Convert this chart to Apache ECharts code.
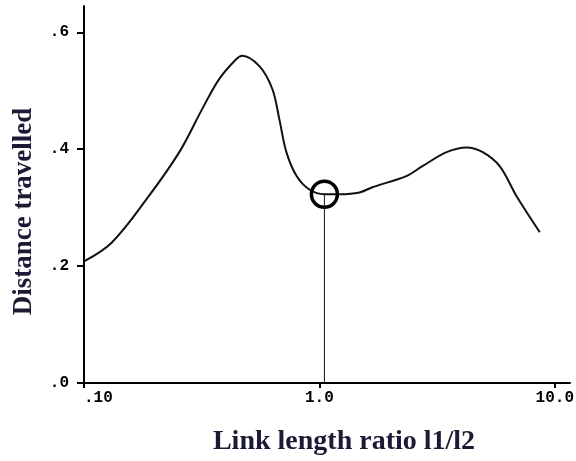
<!DOCTYPE html>
<html>
<head>
    <meta charset="utf-8">
    <title>Distance travelled vs link length ratio</title>
    <script src="https://cdn.jsdelivr.net/npm/echarts@6.0.0/dist/echarts.min.js"></script>
    <style>
        html, body { margin: 0; padding: 0; background: #fff; }
    </style>
</head>
<body>
<div id="main" style="width: 576px;height:461px;"></div>
<script type="text/javascript">

    // data
    let ratio = [0.10, 0.131, 0.184, 0.254, 0.318, 0.375, 0.443, 0.47, 0.556, 0.631, 0.676,
        0.724, 0.80, 0.906, 1.05, 1.22, 1.48, 1.68, 2.34, 2.74, 3.47, 4.22, 4.94, 5.83, 6.89, 8.63];
    let distance = [0.208, 0.240, 0.314, 0.395, 0.469, 0.520, 0.554, 0.560, 0.542, 0.503, 0.451,
        0.395, 0.354, 0.331, 0.323, 0.323, 0.326, 0.335, 0.354, 0.371, 0.395, 0.403, 0.395, 0.371, 0.319, 0.258];
    let optimum = [1.05, 0.323];
    let xTicks = [0.1, 1, 10];
    let xTickLabels = ['.10', '1.0', '10.0'];
    let yTicks = [0, 0.2, 0.4, 0.6];

    let curve = ratio.map(function (r, i) { return [r, distance[i]]; });

    let titleColor = '#1b1b36';

    let option = {
        animation: false,
        backgroundColor: '#fff',
        grid: {left: 84, right: 6, top: 6, bottom: 78, outerBoundsMode: 'none'},
        xAxis: {
            type: 'log',
            logBase: 10,
            min: 0.1,
            max: 11.6,
            name: 'Link length ratio l1/l2',
            nameLocation: 'middle',
            nameGap: 45,
            nameTextStyle: {fontFamily: 'Liberation Serif', fontWeight: 'bold', fontSize: 28, color: titleColor,
                padding: [0, 0, 0, 34]},
            axisLine: {lineStyle: {color: '#000', width: 2}},
            axisTick: {length: 5, customValues: xTicks, lineStyle: {color: '#000', width: 2}},
            splitLine: {show: false},
            axisLabel: {
                margin: 7,
                color: '#000',
                fontFamily: 'Liberation Mono',
                fontSize: 16,
                fontWeight: 'bold',
                customValues: xTicks,
                alignMinLabel: 'left',
                formatter: function (v) {
                    for (let i = 0; i < xTicks.length; i++) {
                        if (Math.abs(Math.log10(v) - Math.log10(xTicks[i])) < 1e-6) return xTickLabels[i];
                    }
                    return '';
                }
            }
        },
        yAxis: {
            type: 'value',
            min: 0,
            max: 0.645,
            interval: 0.2,
            name: 'Distance travelled',
            nameLocation: 'middle',
            nameGap: 46,
            nameTextStyle: {fontFamily: 'Liberation Serif', fontWeight: 'bold', fontSize: 27, color: titleColor,
                padding: [0, 34, 0, 0]},
            axisLine: {show: true, lineStyle: {color: '#000', width: 2}},
            axisTick: {show: true, length: 7, customValues: yTicks, lineStyle: {color: '#000', width: 2}},
            splitLine: {show: false},
            axisLabel: {
                margin: 15,
                color: '#000',
                fontFamily: 'Liberation Mono',
                fontSize: 16,
                fontWeight: 'bold',
                customValues: yTicks,
                formatter: function (v) {
                    return v.toFixed(1).replace('0.', '.');
                }
            }
        },
        series: [
            {
                type: 'line',
                data: curve,
                smooth: 0.35,
                symbol: 'none',
                lineStyle: {color: '#111', width: 2}
            },
            {
                // drop line from the marked point to the axis
                type: 'line',
                data: [[optimum[0], optimum[1]], [optimum[0], 0]],
                symbol: 'none',
                lineStyle: {color: '#111', width: 1}
            },
            {
                type: 'scatter',
                data: [optimum],
                symbol: 'circle',
                symbolSize: 26,
                itemStyle: {color: 'rgba(0,0,0,0)', borderColor: '#000', borderWidth: 3.5, opacity: 1},
                z: 5
            }
        ]
    };

    let myChart = echarts.init(document.getElementById('main'));
    myChart.setOption(option);
</script>
</body>
</html>
